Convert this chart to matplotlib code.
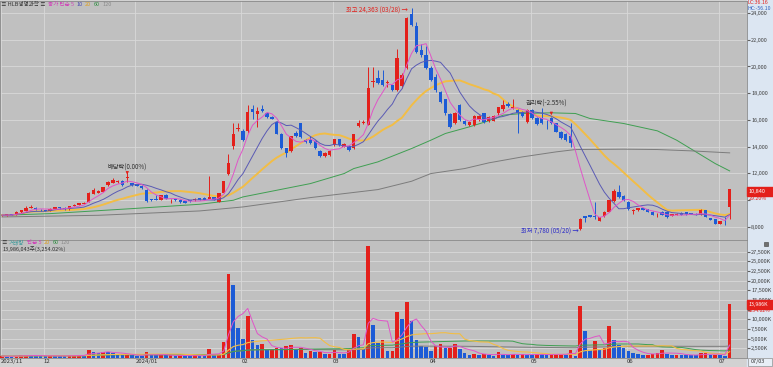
import numpy as np
import pandas as pd
import matplotlib
matplotlib.use('Agg')
import matplotlib.pyplot as plt
from matplotlib.patches import Rectangle

plt.rcParams['font.family'] = ['Noto Sans CJK KR', 'DejaVu Sans']

# daily OHLC (won), 2023/11/17 .. 2024/07/03
opens = [8850, 8870, 8880, 8860, 9080, 9200, 9400, 9430, 9270, 9220,
         9180, 9330, 9420, 9420, 9300, 9560, 9660, 9720, 9860, 10480,
         10560, 10600, 11100, 11280, 11330, 11430, 11650, 11250, 11170, 11070,
         10750, 10050, 10050, 10030, 10400, 10050, 10060, 10030, 9900, 9980,
         9980, 10150, 10180, 10100, 10230, 9880, 10560, 11980, 14060, 15350,
         15160, 15170, 16780, 16430, 16780, 16480, 16230, 15850, 14910, 13860,
         13690, 14990, 15740, 14490, 14490, 14420, 13690, 13290, 13370, 14120,
         14540, 13990, 14070, 13870, 15540, 15790, 15620, 18820, 19160, 18980,
         18750, 18610, 18240, 18530, 19860, 23930, 23030, 21230, 20860, 19860,
         19240, 18110, 17540, 16420, 15790, 17110, 15940, 15610, 15610, 16050,
         16490, 15940, 15930, 16480, 16780, 17160, 16860, 16730, 16610, 15870,
         16730, 16110, 16110, 15990, 16110, 15740, 15120, 14940, 14790, 9970,
         7860, 8780, 8860, 8780, 8450, 8780, 9130, 9900, 10630, 10300,
         9870, 9200, 9250, 9380, 9300, 9130, 8850, 9130, 9130, 8800,
         8900, 9050, 9070, 8990, 8980, 8930, 9230, 8630, 8550, 8200,
         8450, 9500]
highs = [8900, 8910, 8920, 9150, 9260, 9530, 9600, 9450, 9300, 9250,
         9380, 9500, 9450, 9450, 9580, 9690, 9800, 9850, 10600, 10900,
         10750, 11000, 11400, 11680, 11500, 11480, 12100, 11300, 11200, 11100,
         10800, 10100, 10350, 10380, 10450, 10100, 10100, 10060, 9950, 10000,
         10130, 10180, 10200, 11800, 10250, 10560, 11450, 13480, 15800, 15740,
         15300, 17110, 17110, 17000, 17110, 16600, 16300, 15900, 15000, 13900,
         14800, 15160, 15800, 14550, 14780, 14500, 13750, 13600, 13750, 14600,
         14600, 14250, 14150, 14950, 15990, 15990, 19990, 19990, 19740, 19740,
         18980, 18650, 21280, 19500, 23730, 24363, 23300, 21700, 21500, 20000,
         19400, 18200, 17600, 16500, 16600, 17200, 16000, 15900, 16400, 16350,
         16550, 16300, 16350, 17000, 17480, 17360, 17530, 16800, 16680, 16800,
         16780, 16200, 16860, 16000, 16200, 15800, 15200, 15000, 15730, 9970,
         8620, 8830, 8900, 9860, 8720, 9180, 10020, 10860, 11160, 10400,
         9900, 9350, 9420, 9420, 9350, 9180, 9000, 9150, 9150, 8960,
         9000, 9080, 9100, 9020, 9000, 9360, 9250, 8660, 8580, 8450,
         8750, 10840]
lows = [8820, 8830, 8840, 8850, 9050, 9180, 9380, 9280, 9200, 9150,
        9150, 9300, 9350, 9280, 9280, 9530, 9640, 9700, 9830, 10450,
        10500, 10580, 11080, 11250, 11300, 11080, 11380, 11050, 11030, 10850,
        9850, 9950, 9980, 10000, 10080, 9750, 9950, 9800, 9750, 9880,
        9960, 9980, 9970, 10050, 9970, 9860, 10540, 11850, 13800, 15200,
        14400, 15000, 16100, 15500, 16600, 16150, 16050, 14950, 13850, 13200,
        13600, 14700, 14650, 14300, 14200, 13850, 13200, 13250, 13330, 14080,
        14080, 13950, 13700, 13830, 15500, 15700, 15600, 18430, 18700, 18550,
        18430, 18200, 18200, 18400, 19800, 23000, 21000, 20700, 19800, 18900,
        18100, 17300, 16400, 15400, 15700, 15900, 15600, 15550, 15550, 15950,
        15800, 15850, 15880, 16400, 16700, 16950, 16800, 15040, 16250, 15800,
        16050, 15650, 15700, 15350, 15700, 15100, 14600, 14450, 14000, 9970,
        7780, 8330, 8700, 8600, 8430, 8750, 9100, 9850, 10150, 9950,
        9280, 8980, 9200, 9230, 9100, 8850, 8700, 8860, 8680, 8780,
        8880, 8860, 8900, 8950, 8860, 8900, 8700, 8480, 8180, 8180,
        8150, 8600]
closes = [8870, 8880, 8870, 9100, 9230, 9430, 9480, 9300, 9220, 9180,
          9350, 9480, 9380, 9300, 9550, 9660, 9780, 9800, 10530, 10780,
          10680, 10980, 11350, 11480, 11450, 11100, 11700, 11100, 11070, 10870,
          9950, 9980, 10030, 10350, 10100, 10080, 9980, 9830, 9780, 9900,
          10100, 9990, 9990, 10230, 9990, 10530, 11410, 12800, 14910, 15420,
          14480, 16600, 16610, 16680, 16700, 16190, 16100, 14980, 13860, 13540,
          14790, 14790, 14690, 14370, 14240, 13870, 13290, 13540, 13690, 14540,
          14120, 14190, 13740, 14940, 15790, 15810, 18360, 18850, 18740, 18610,
          18800, 18240, 20610, 19360, 23610, 23110, 21110, 20860, 19860, 18990,
          18240, 17360, 16490, 15490, 16490, 15990, 15690, 15860, 16310, 16290,
          15870, 16240, 16280, 16930, 17110, 17040, 16980, 16480, 16290, 16730,
          16110, 15690, 15740, 15960, 15740, 15120, 14620, 14490, 14240, 9970,
          8600, 8680, 8730, 8740, 8700, 9130, 10000, 10700, 10200, 10000,
          9300, 9250, 9380, 9250, 9130, 8880, 8880, 8880, 8700, 8930,
          8980, 8880, 8930, 8970, 8880, 9230, 8750, 8500, 8200, 8420,
          8390, 10840]
# volume in thousand shares
volumes_k = [500, 450, 400, 600, 700, 800, 650, 550, 500, 450,
             700, 600, 500, 450, 700, 750, 800, 650, 2200, 1450,
             1300, 1650, 1450, 1400, 1050, 800, 850, 650, 600, 550,
             1500, 800, 700, 750, 650, 700, 600, 650, 600, 550,
             650, 600, 550, 2400, 750, 1100, 4100, 21800, 19000, 7800,
             4800, 10800, 4750, 3450, 3500, 2000, 2300, 2600, 2550, 3000,
             3450, 2300, 2600, 1300, 1700, 1450, 1500, 1100, 1150, 2150,
             1100, 1050, 2150, 6200, 5400, 2300, 28900, 8600, 3900, 4600,
             1700, 1750, 11800, 10100, 14400, 9500, 4750, 3200, 2850, 1750,
             3000, 3700, 2600, 2650, 3700, 2300, 1300, 850, 1100, 850,
             1100, 700, 600, 1450, 850, 650, 1100, 650, 1100, 850,
             800, 1000, 950, 850, 900, 1000, 1050, 950, 2150, 600,
             13550, 7100, 2000, 4300, 2000, 2600, 8400, 4600, 3450, 2600,
             1700, 1300, 1100, 850, 900, 1100, 1300, 2000, 1100, 850,
             900, 800, 750, 700, 650, 1300, 1350, 850, 900, 700,
             430, 13986]

# long moving averages (they need history before the window)
ma60_idx = [0, 10, 27, 41, 48, 50, 57, 64, 71, 73, 78, 85, 89, 92, 97, 101,
            104, 108, 114, 119, 122, 129, 136, 140, 144, 148, 151]
ma60_val = [8855, 8980, 9355, 9680, 9980, 10230, 10730, 11230, 11980, 12355,
            12855, 13855, 14480, 14980, 15480, 15930, 16355, 16480, 16530,
            16480, 16105, 15730, 15180, 14480, 13605, 12730, 12180]
ma120_idx = [0, 20, 41, 50, 64, 71, 78, 85, 89, 96, 101, 108, 115, 119, 129,
             136, 143, 151]
ma120_val = [8730, 8855, 9180, 9480, 10180, 10480, 10780, 11405, 11980, 12355,
             12780, 13230, 13605, 13780, 13805, 13780, 13680, 13530]

month_pos = [0, 9, 28, 50, 69, 89, 110, 130, 149]
month_labels = ['2023/11', '12', '2024/01', '02', '03', '04', '05', '06', '07']

RED = '#e3201b'
BLUE = '#1c5bd6'
BG = '#c0c0c0'
GRID = '#d8d8d8'

o = np.array(opens, float)
h = np.array(highs, float)
l = np.array(lows, float)
c = np.array(closes, float)
v = np.array(volumes_k, float)
x = np.arange(len(c))

W, H = 773, 367
fig = plt.figure(figsize=(W / 100, H / 100), dpi=100)
fig.patch.set_facecolor('#d2d2d2')


def fx(px):
    return px / W


def fy(py):
    return 1 - py / H


# right axis strip (behind the axes tick labels)
fig.patches.append(Rectangle((fx(747), 0), fx(26), 1, transform=fig.transFigure,
                             color='#dce6f2', zorder=-5))

ax_p = fig.add_axes([0, fy(240), fx(747), 239 / H])
ax_v = fig.add_axes([0, fy(358), fx(747), 118 / H])

for ax in (ax_p, ax_v):
    ax.set_facecolor(BG)
    ax.set_xlim(-0.41, 154.6)
    ax.yaxis.tick_right()
    ax.set_xticks([p - 0.3 for p in month_pos])
    ax.grid(True, color=GRID, lw=0.6)
    ax.set_axisbelow(True)
    for s in ax.spines.values():
        s.set_color('#8a8a8a')
        s.set_linewidth(0.6)
    ax.tick_params(axis='y', labelsize=4.0, pad=1, length=2, color='#606060',
                   labelcolor='#404040')
    ax.tick_params(axis='x', length=0)

# ---- price panel
ax_p.set_ylim(7004, 24905)
pticks = list(range(8000, 24001, 2000))
ax_p.set_yticks(pticks)
ax_p.set_yticklabels(['' if t == 10000 else f'{t:,}' for t in pticks])
ax_p.set_xticklabels([])

up = c >= o
col = np.where(up, RED, BLUE)
ax_p.vlines(x, l, h, colors=col, lw=0.7, zorder=3)
body = np.maximum(np.abs(c - o), 60)
ax_p.bar(x, body, bottom=np.minimum(o, c), width=0.7, color=col, linewidth=0, zorder=4)

cs = pd.Series(c)
ax_p.plot(x, cs.rolling(20, min_periods=1).mean(), color='#f2bd45', lw=1.4, zorder=2)
ax_p.plot(ma60_idx, ma60_val, color='#3f9f52', lw=0.7, zorder=2)
ax_p.plot(ma120_idx, ma120_val, color='#7c7c7c', lw=0.7, zorder=2)
ax_p.plot(x, cs.rolling(10, min_periods=1).mean(), color='#5a5ab4', lw=0.7, zorder=5)
ax_p.plot(x, cs.rolling(5, min_periods=1).mean(), color='#e055c8', lw=0.7, zorder=5)

fs = 4.5
ax_p.text(84.2, 24230, '최고 24,363 (03/28) →', color=RED, fontsize=fs, ha='right', va='center')
ax_p.text(119.6, 7720, '최저 7,780 (05/20) →', color='#2a2ac8', fontsize=fs, ha='right', va='center')
ax_p.text(26, 12420, '배당락(0.00%)', color='#303030', fontsize=fs, ha='center', va='center')
ax_p.text(113, 17240, '권리락(-2.55%)', color='#303030', fontsize=fs, ha='center', va='center')
arrow = dict(arrowstyle='-|>', color=RED, lw=0.6, mutation_scale=4)
ax_p.annotate('', xy=(26, 11900), xytext=(26, 12250), arrowprops=arrow, zorder=6)
ax_p.annotate('', xy=(114, 16350), xytext=(114, 16700), arrowprops=arrow, zorder=6)

# ---- volume panel
ax_v.set_ylim(0, 30560)
vticks = list(range(2500, 27501, 2500))
ax_v.set_yticks(vticks)
ax_v.set_yticklabels(['' if t == 12500 else f'{t:,}K' for t in vticks])
vcol = [RED] + [RED if v[i] >= v[i - 1] else BLUE for i in range(1, len(v))]
ax_v.bar(x, v, width=0.75, color=vcol, linewidth=0, zorder=3)
vs = pd.Series(v)
ax_v.plot(x, vs.rolling(120, min_periods=1).mean(), color='#7c7c7c', lw=0.7, zorder=4)
ax_v.plot(x, vs.rolling(60, min_periods=1).mean(), color='#3f9f52', lw=0.7, zorder=4)
ax_v.plot(x, vs.rolling(20, min_periods=1).mean(), color='#f2bd45', lw=0.8, zorder=4)
ax_v.plot(x, vs.rolling(5, min_periods=1).mean(), color='#e055c8', lw=0.7, zorder=4)
ax_v.set_xticklabels(month_labels, ha='left', fontsize=4.3, color='#303030')
ax_v.tick_params(axis='x', pad=1)

# ---- legends / header texts
renderer = fig.canvas.get_renderer()
fs_small = 4.0


def put(px, py, s, color, size=fs_small, **kw):
    return fig.text(fx(px), fy(py), s, color=color, fontsize=size, va='center', **kw)


def put_row(px, py, parts, gap=2.5):
    for s, color in parts:
        t = put(px, py, s, color)
        px += t.get_window_extent(renderer).width + gap


put_row(1, 4, [('≡ HLB생명과학 ≡', '#303030'), ('종가 단순 5', '#d040b8'),
               ('10', '#4a4ab0'), ('20', '#e0a020'), ('60', '#2f8f42'),
               ('120', '#8a8a8a')])
put_row(1, 243, [('≡', '#303030'), ('거래량', '#3a9a9a'), ('단순 5', '#d040b8'),
                 ('20', '#e0a020'), ('60', '#2f8f42'), ('120', '#8a8a8a')])
put(3, 249, '13,986,043주(3,254.02%)', '#303030')

put(747, 3, 'LC:36.16', RED, size=3.8)
put(747, 8, 'HC:-56.10', '#3060c0', size=3.8)

# current value boxes on the right axis
fig.patches.append(Rectangle((fx(747), fy(196)), fx(26), 9 / H, transform=fig.transFigure,
                             color=RED, zorder=5))
put(749, 191.5, '10,840', 'white', zorder=6)
put(749, 198, '29.20%', RED, size=3.8)
fig.patches.append(Rectangle((fx(747), fy(309)), fx(26), 9 / H, transform=fig.transFigure,
                             color=RED, zorder=5))
put(748, 304.5, '13,986K', 'white', size=3.8, zorder=6)
put(748, 311, '3254.02%', RED, size=3.6)

fig.patches.append(Rectangle((fx(748), fy(366)), fx(24), 8 / H, transform=fig.transFigure,
                             facecolor='#e8eef6', edgecolor='#909090', lw=0.5, zorder=5))
put(751, 362, '07/03', '#303030', zorder=6)
fig.patches.append(Rectangle((fx(764), fy(246)), fx(4), 4 / H, transform=fig.transFigure,
                             facecolor='#707070', edgecolor='#404040', lw=0.4, zorder=5))

fig.savefig('out.png', dpi=100)
